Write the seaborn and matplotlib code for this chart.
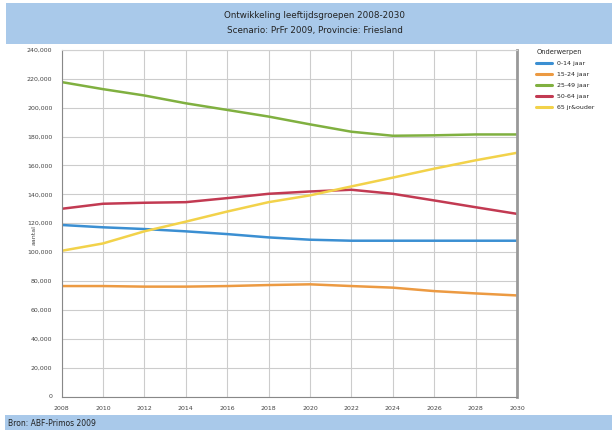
import pandas as pd
import numpy as np
import matplotlib
matplotlib.use("Agg")
import matplotlib.pyplot as plt
import seaborn as sns
from matplotlib.patches import Rectangle
from matplotlib.ticker import FuncFormatter

years = [2008, 2010, 2012, 2014, 2016, 2018, 2020, 2022, 2024, 2026, 2028, 2030]
groups = ["0-14 jaar", "15-24 jaar", "25-49 jaar", "50-64 jaar", "65 jr&ouder"]
val_0_14 = [118800, 117200, 116000, 114400, 112500, 110200, 108600, 107900, 107900, 107900, 107900, 107900]
val_15_24 = [76500, 76500, 76100, 76100, 76500, 77200, 77700, 76500, 75400, 73000, 71400, 70000]
val_25_49 = [217800, 212900, 208500, 203100, 198500, 193900, 188500, 183400, 180600, 180900, 181500, 181500]
val_50_64 = [130000, 133500, 134200, 134600, 137400, 140400, 142000, 143200, 140400, 135800, 131100, 126500]
val_65 = [100900, 106000, 114400, 121100, 128100, 134600, 139300, 145500, 151600, 157800, 163600, 168800]
colors = ["#3b8fd2", "#ec9a42", "#80b040", "#c23a52", "#f2d24a"]

rows = []
for g, vals in zip(groups, [val_0_14, val_15_24, val_25_49, val_50_64, val_65]):
    for y, v in zip(years, vals):
        rows.append({"jaar": y, "aantal": v, "groep": g})
df = pd.DataFrame(rows)

sns.set_style("white")
plt.rcParams["font.family"] = ["DejaVu Sans"]

fig = plt.figure(figsize=(6.12, 4.30), dpi=100)
fig.patch.set_facecolor("white")

# banners boven en onder
fig.patches.append(Rectangle((6 / 612, 1 - 44 / 430), 1, 41 / 430, transform=fig.transFigure,
                             facecolor="#a9c9ea", edgecolor="none", zorder=0))
fig.patches.append(Rectangle((5 / 612, 0), 1, 15 / 430, transform=fig.transFigure,
                             facecolor="#a9c9ea", edgecolor="none", zorder=0))
fig.text(315 / 612, 1 - 16 / 430, "Ontwikkeling leeftijdsgroepen 2008-2030", ha="center", va="center",
         fontsize=6.3, color="#222222")
fig.text(315 / 612, 1 - 30 / 430, "Scenario: PrFr 2009, Provincie: Friesland", ha="center", va="center",
         fontsize=6.3, color="#222222")
fig.text(8 / 612, 7 / 430, "Bron: ABF-Primos 2009", ha="left", va="center", fontsize=5.5, color="#222222")

ax = fig.add_axes([61.5 / 612, 33.5 / 430, 455.5 / 612, 346.5 / 430])
sns.lineplot(data=df, x="jaar", y="aantal", hue="groep", palette=colors, linewidth=1.8, ax=ax)

ax.set_xlim(2008, 2030)
ax.set_ylim(0, 240000)
ax.set_xticks(years)
ax.set_yticks(np.arange(0, 240001, 20000))
ax.yaxis.set_major_formatter(FuncFormatter(lambda v, p: f"{int(v):,}"))
ax.grid(True, color="#cccccc", linewidth=0.8)
ax.tick_params(labelsize=4.5, colors="#444444", length=3, width=0.6)
ax.set_xlabel("")
ax.set_ylabel("aantal", fontsize=4.5, color="#444444")
ax.yaxis.set_label_coords(-0.054, 0.466)
ax.spines["top"].set_color("#d0d0d0")
ax.spines["left"].set_color("#888888")
ax.spines["bottom"].set_color("#888888")
ax.spines["right"].set_color("#999999")
ax.spines["right"].set_linewidth(2)

leg = ax.legend(title="Onderwerpen", loc="upper left", bbox_to_anchor=(1.03, 1.02), frameon=False,
                fontsize=4.5, title_fontsize=4.8, handlelength=2.5, labelspacing=0.9)
for h in leg.get_lines():
    h.set_linewidth(2.2)
leg._legend_box.align = "left"

fig.savefig("out.png", dpi=100)
